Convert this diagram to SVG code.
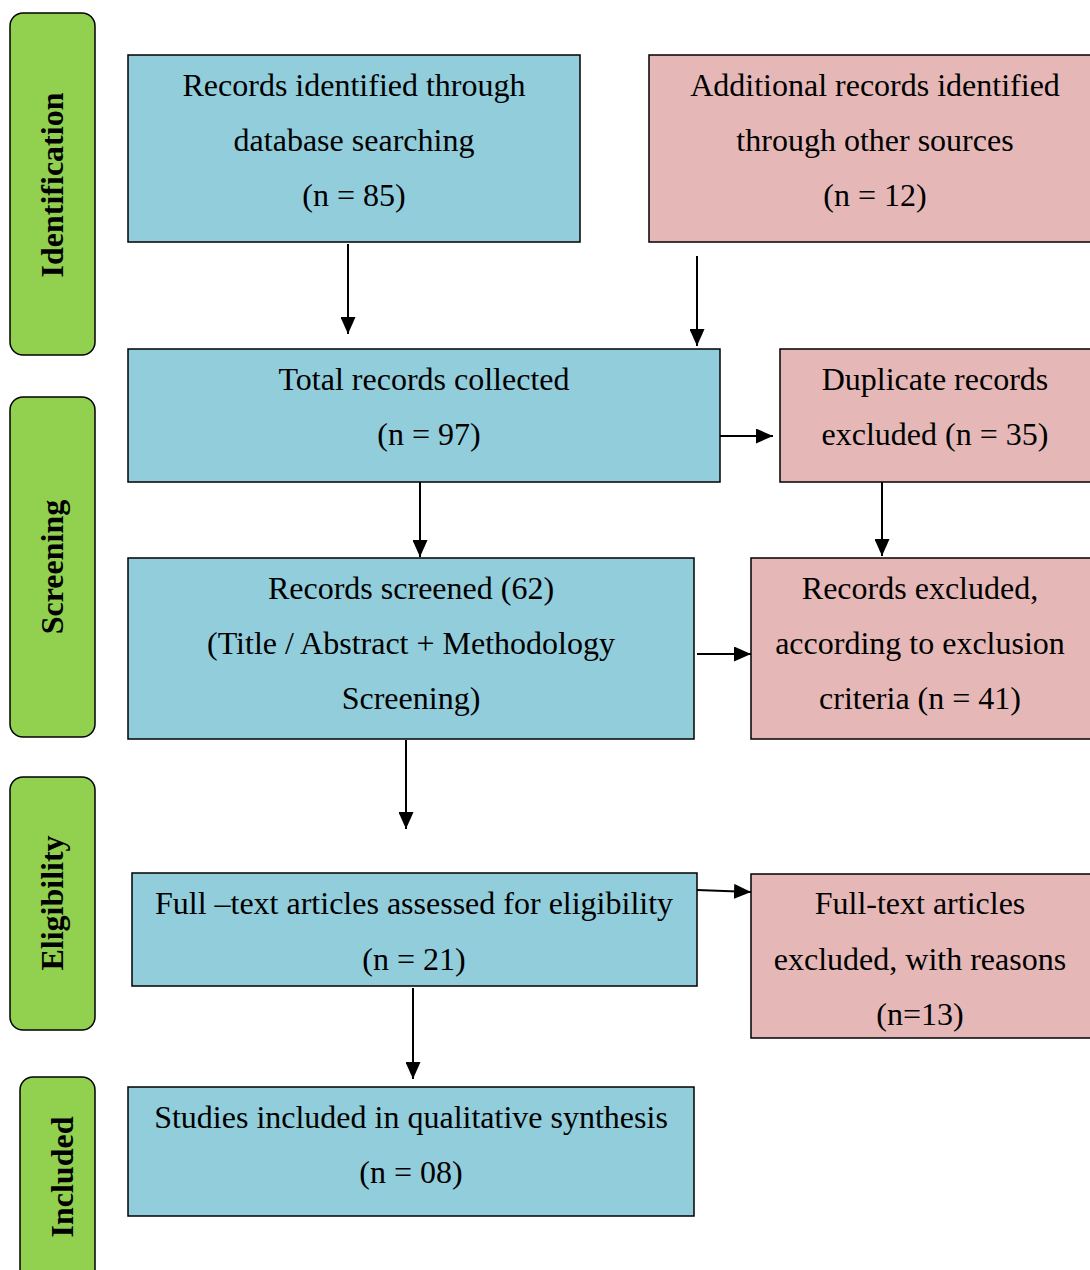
<svg xmlns="http://www.w3.org/2000/svg" width="1090" height="1270" viewBox="0 0 1090 1270">
  <style>
    .blue { fill: #92CDDC; stroke: #000; stroke-width: 1.5; }
    .pink { fill: #E5B8B7; stroke: #000; stroke-width: 1.5; }
    .phase { fill: #92D050; stroke: #000; stroke-width: 1.5; }
    .t { font-family: "Liberation Serif", "Times New Roman", serif; font-size: 32px; fill: #000; text-anchor: middle; }
    .pt { font-family: "Liberation Serif", "Times New Roman", serif; font-size: 32px; font-weight: bold; fill: #000; text-anchor: middle; }
    .c { stroke: #000; stroke-width: 2; fill: none; marker-end: url(#ah); }
  </style>
  <defs>
    <marker id="ah" markerWidth="17" markerHeight="15" refX="17" refY="7.5" orient="auto" markerUnits="userSpaceOnUse">
      <path d="M0,0 L17,7.5 L0,15 Z" fill="#000"/>
    </marker>
  </defs>
  <rect width="1090" height="1270" fill="#fff"/>

  <!-- phase labels -->
  <g id="phase-identification">
    <rect class="phase" x="10" y="13" width="85" height="342" rx="13"/>
    <text class="pt" transform="translate(63,185) rotate(-90)">Identification</text>
  </g>
  <g id="phase-screening">
    <rect class="phase" x="10" y="397" width="85" height="340" rx="13"/>
    <text class="pt" transform="translate(63,567) rotate(-90)">Screening</text>
  </g>
  <g id="phase-eligibility">
    <rect class="phase" x="10" y="777" width="85" height="253" rx="13"/>
    <text class="pt" transform="translate(63,903) rotate(-90)">Eligibility</text>
  </g>
  <g id="phase-included">
    <rect class="phase" x="20" y="1077" width="75" height="210" rx="13"/>
    <text class="pt" transform="translate(73,1177) rotate(-90)">Included</text>
  </g>

  <!-- flow boxes -->
  <g id="db-records">
    <rect class="blue" x="128" y="55" width="452" height="187"/>
    <text class="t" x="354" y="96">Records identified through</text>
    <text class="t" x="354" y="151">database searching</text>
    <text class="t" x="354" y="206">(n = 85)</text>
  </g>
  <g id="other-records">
    <rect class="pink" x="649" y="55" width="460" height="187"/>
    <text class="t" x="875" y="96">Additional records identified</text>
    <text class="t" x="875" y="151">through other sources</text>
    <text class="t" x="875" y="206">(n = 12)</text>
  </g>
  <g id="total-records">
    <rect class="blue" x="128" y="349" width="592" height="133"/>
    <text class="t" x="424" y="390">Total records collected</text>
    <text class="t" x="429" y="445">(n = 97)</text>
  </g>
  <g id="duplicates">
    <rect class="pink" x="780" y="349" width="329" height="133"/>
    <text class="t" x="935" y="390">Duplicate records</text>
    <text class="t" x="935" y="445">excluded (n = 35)</text>
  </g>
  <g id="screened">
    <rect class="blue" x="128" y="558" width="566" height="181"/>
    <text class="t" x="411" y="599">Records screened (62)</text>
    <text class="t" x="411" y="654">(Title / Abstract + Methodology</text>
    <text class="t" x="411" y="709">Screening)</text>
  </g>
  <g id="screen-excluded">
    <rect class="pink" x="751" y="558" width="358" height="181"/>
    <text class="t" x="920" y="599">Records excluded,</text>
    <text class="t" x="920" y="654">according to exclusion</text>
    <text class="t" x="920" y="709">criteria (n = 41)</text>
  </g>
  <g id="full-text">
    <rect class="blue" x="132" y="873" width="565" height="113"/>
    <text class="t" x="414" y="914">Full –text articles assessed for eligibility</text>
    <text class="t" x="414" y="970">(n = 21)</text>
  </g>
  <g id="full-text-excluded">
    <rect class="pink" x="751" y="874" width="358" height="164"/>
    <text class="t" x="920" y="914">Full-text articles</text>
    <text class="t" x="920" y="970">excluded, with reasons</text>
    <text class="t" x="920" y="1025">(n=13)</text>
  </g>
  <g id="included">
    <rect class="blue" x="128" y="1087" width="566" height="129"/>
    <text class="t" x="411" y="1128">Studies included in qualitative synthesis</text>
    <text class="t" x="411" y="1183">(n = 08)</text>
  </g>

  <!-- connectors -->
  <g id="connectors">
    <line class="c" x1="348" y1="244" x2="348" y2="334"/>
    <line class="c" x1="697" y1="256" x2="697" y2="346"/>
    <line class="c" x1="720" y1="436" x2="773" y2="436"/>
    <line class="c" x1="420" y1="482" x2="420" y2="557"/>
    <line class="c" x1="882" y1="482" x2="882" y2="556"/>
    <line class="c" x1="697" y1="654" x2="751" y2="654"/>
    <line class="c" x1="406" y1="740" x2="406" y2="829"/>
    <line class="c" x1="697" y1="890" x2="751" y2="892"/>
    <line class="c" x1="413" y1="988" x2="413" y2="1079"/>
  </g>
</svg>
